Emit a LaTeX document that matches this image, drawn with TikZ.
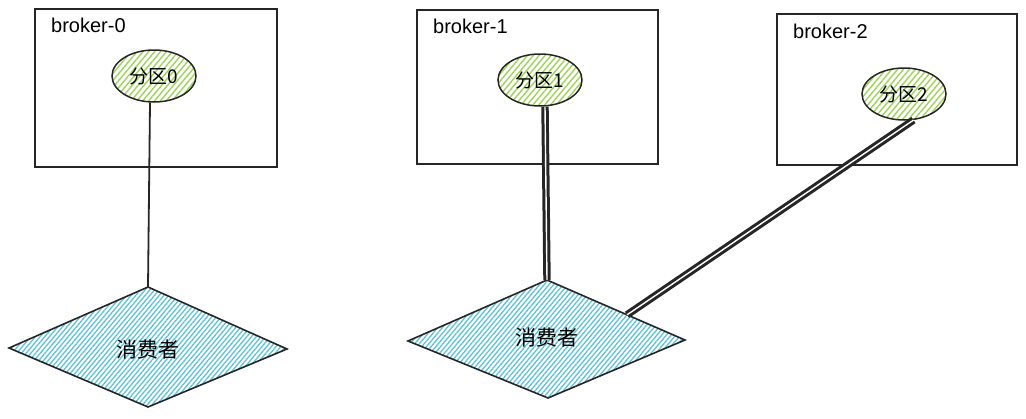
\documentclass[tikz,border=0pt]{standalone}
\usepackage{fontspec}
\setmainfont{Liberation Sans}
\newfontfamily\cjk{Noto Sans CJK SC}
\usetikzlibrary{shapes.geometric,patterns.meta,calc}
\definecolor{hgreen}{HTML}{9ED35A}
\definecolor{hcyan}{HTML}{5CC2D8}
\tikzset{
  broker/.style={draw=black!85, line width=1.6pt},
  brokerlabel/.style={anchor=west, inner sep=0pt, font=\fontsize{20}{23}\selectfont},
  partition/.style={ellipse, draw=black!85, line width=1.5pt, inner sep=0pt,
    minimum width=84pt, minimum height=52pt,
    pattern={Lines[angle=50,distance=4.5pt,line width=1.4pt]}, pattern color=hgreen,
    font=\cjk\fontsize{19}{22}\selectfont},
  consumer/.style={draw=black!85, line width=1.6pt,
    pattern={Lines[angle=50,distance=3.6pt,line width=1.3pt]}, pattern color=hcyan},
  consumerlabel/.style={inner sep=0pt, font=\cjk\fontsize{21}{24}\selectfont},
  link/.style={draw=black!85, line width=1.8pt},
  dlink/.style={draw=black!85, line width=3pt, double=white, double distance=1.4pt}
}
\begin{document}
\begin{tikzpicture}[x=1pt,y=-1pt]
\useasboundingbox (0,0) rectangle (1026,418);
% brokers
\draw[broker] (35,9) rectangle (277,167);
\draw[broker] (417,10) rectangle (658,164);
\draw[broker] (777,14) rectangle (1017,165);
\node[brokerlabel] (b0) at (51,25) {broker-0};
\node[brokerlabel] (b1) at (433,26) {broker-1};
\node[brokerlabel] (b2) at (793,31) {broker-2};
% partitions
\node[partition] (p0) at (154,76) {分区0};
\node[partition] (p1) at (540,80) {分区1};
\node[partition] (p2) at (904,94) {分区2};
% consumers
\coordinate (c0t) at (148,287);
\coordinate (c0l) at (9,348);
\coordinate (c0b) at (148,407);
\coordinate (c0r) at (287,349);
\coordinate (c1t) at (547,280);
\coordinate (c1l) at (408,341);
\coordinate (c1b) at (548,398);
\coordinate (c1r) at (685,340);
\draw[consumer] (c0t) -- (c0r) -- (c0b) -- (c0l) -- cycle;
\draw[consumer] (c1t) -- (c1r) -- (c1b) -- (c1l) -- cycle;
\node[consumerlabel] (c0) at (148,350) {消费者};
\node[consumerlabel] (c1) at (547,338) {消费者};
\coordinate (c1e) at ($(c1t)!0.58!(c1r)$);
% connectors
\draw[link] (p0.south) ++(-4,0) coordinate (p0s) -- (c0t);
\draw[dlink] (p1.south) ++(5,0) coordinate (p1s) -- (c1t);
\draw[dlink] (p2.-70) -- (c1e);
\end{tikzpicture}
\end{document}
